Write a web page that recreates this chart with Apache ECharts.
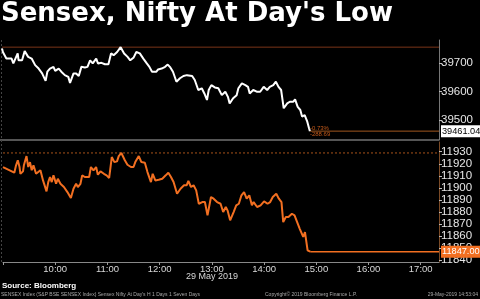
<!DOCTYPE html>
<html>
<head>
<meta charset="utf-8">
<script src="https://cdn.jsdelivr.net/npm/echarts@6/dist/echarts.min.js"></script>
<style>
  html, body { margin: 0; padding: 0; background: #000; }
  #chart { width: 480px; height: 299px; }
</style>
</head>
<body>
<div id="chart"></div>
<script>
// Sensex (top) 和 Nifty (bottom), 29 May 2019 intraday
var sensexTimes = ["9:00","9:01","9:05","9:11","9:13","9:15","9:18","9:19","9:23","9:26","9:30","9:34","9:38","9:42","9:46","9:47","9:50","9:52","9:55","9:59",
  "10:01","10:05","10:08","10:12","10:16","10:18","10:22","10:25","10:28","10:31","10:35","10:38","10:41","10:44","10:48","10:50","10:54","10:58",
  "11:02","11:05","11:08","11:12","11:16","11:20","11:24","11:27","11:31","11:34","11:38","11:42","11:46","11:49","11:52","11:54","11:57","11:59",
  "12:03","12:07","12:10","12:13","12:16","12:20","12:24","12:28","12:32","12:34","12:38","12:41","12:45","12:49","12:52","12:55","12:57",
  "13:00","13:04","13:08","13:12","13:16","13:19","13:21","13:25","13:29","13:31","13:35","13:39","13:42","13:44","13:48","13:52","13:56",
  "14:00","14:04","14:07","14:11","14:14","14:17","14:20","14:23","14:27","14:30","14:34","14:36","14:39","14:42","14:44","14:47","14:50","14:52","14:53"];
var sensexValues = [39750,39738,39715,39715,39698,39712,39733,39709,39709,39741,39721,39715,39692,39680,39663,39669,39637,39669,39680,39686,
  39672,39680,39669,39657,39651,39630,39663,39663,39654,39686,39684,39686,39709,39698,39715,39698,39700,39695,
  39695,39733,39727,39738,39755,39733,39721,39709,39719,39738,39733,39715,39698,39686,39669,39675,39669,39677,
  39680,39686,39694,39684,39669,39634,39646,39654,39657,39663,39654,39640,39605,39611,39593,39570,39605,
  39622,39614,39611,39587,39599,39581,39558,39576,39587,39611,39628,39622,39616,39593,39605,39599,39599,
  39616,39605,39616,39622,39634,39616,39605,39541,39558,39564,39564,39572,39546,39535,39512,39517,39494,39471,39461.04];
var sensexPrevClose = 39749.73;

var niftyTimes = ["9:00","9:13","9:15","9:17","9:19","9:20","9:23","9:24","9:27","9:29","9:31","9:33","9:35","9:38","9:40","9:43","9:46","9:47","9:50","9:52","9:54","9:56","9:58",
  "10:01","10:03","10:06","10:10","10:14","10:16","10:18","10:21","10:24","10:26","10:29","10:31","10:34","10:36","10:39","10:41","10:44","10:47","10:49","10:52","10:56","10:59",
  "11:02","11:05","11:08","11:11","11:13","11:16","11:20","11:23","11:27","11:30","11:32","11:36","11:39","11:43","11:46","11:50","11:52","11:55","11:59",
  "12:03","12:07","12:10","12:13","12:16","12:20","12:24","12:28","12:31","12:33","12:36","12:39","12:42","12:45","12:49","12:52","12:55","12:59",
  "13:02","13:06","13:10","13:13","13:16","13:18","13:21","13:25","13:28","13:31","13:34","13:37","13:40","13:43","13:46","13:48","13:52","13:56",
  "14:00","14:04","14:07","14:10","14:14","14:17","14:20","14:22","14:25","14:28","14:32","14:35","14:38","14:41","14:43","14:45","14:47","14:50","14:52","14:53"];
var niftyValues = [11917.3,11912.6,11918.7,11922.9,11917.3,11911.7,11913.7,11918.7,11926.4,11917.3,11921.4,11914.6,11918.7,11911.7,11910.4,11914.6,11906.2,11904.8,11897.1,11904.8,11909,11904.8,11910.4,
  11903.4,11907.6,11903.4,11900.7,11896.5,11896.5,11891.5,11899.3,11903.4,11900.7,11903.4,11910.4,11909,11910.4,11909,11917.3,11914.6,11917.3,11910.9,11913.7,11911.7,11910.4,
  11908.2,11925.6,11921.4,11922,11926.4,11929,11922.9,11919.2,11917.3,11917.3,11921.4,11926.4,11921.4,11920.9,11913.1,11904.8,11911.7,11906.2,11906.7,
  11907.6,11910.4,11912.6,11909,11904.8,11895.1,11899.3,11902.1,11902.1,11905.7,11900.7,11902.1,11897.9,11886.8,11888.2,11888.2,11877.2,11892.4,
  11891,11888.2,11886.8,11879.9,11884.1,11881.3,11873,11879.9,11885.5,11886.8,11893.8,11896.5,11891,11893.8,11885.5,11888.2,11884.1,11885.5,
  11888.8,11886.8,11888.2,11892.4,11895.1,11891,11888.2,11871.6,11875.8,11875.8,11878.5,11877.2,11871.6,11866,11867.5,11859.2,11863.3,11848.1,11847,11847];

var hourTicks = ["10:00","11:00","12:00","13:00","14:00","15:00","16:00","17:00"];

var xMin = 540, xMax = 1041;   // 9:00 .. ~17:21 in minutes
var orange = "#f26f21";

function toMin(t) {
  var p = t.split(":");
  return +p[0] * 60 + +p[1];
}
function pairs(times, vals) {
  return times.map(function (t, i) { return [toMin(t), vals[i]]; });
}

var sensexData = pairs(sensexTimes, sensexValues);
var niftyData = pairs(niftyTimes, niftyValues);
var sLast = sensexData[sensexData.length - 1];
var nLast = niftyData[niftyData.length - 1];
var sHigh = Math.max.apply(null, sensexValues);
var nHigh = Math.max.apply(null, niftyValues);
var sChg = sLast[1] - sensexPrevClose;
var sPct = sChg / sensexPrevClose * 100;

var font = "Liberation Sans";

function yAxisCfg(idx, min, max, split, lineColor) {
  return {
    type: "value", gridIndex: idx, position: "right",
    min: min, max: max, splitNumber: split, scale: true,
    axisLine: { show: true, lineStyle: { color: lineColor, width: 1 } },
    axisTick: { show: true, length: 3, lineStyle: { color: "#bbb" } },
    axisLabel: { color: "#e6e6e6", fontFamily: font, fontSize: 11.5, margin: 2,
      showMinLabel: false, showMaxLabel: false,
      formatter: function (v) { return String(v); } },
    splitLine: { show: false }
  };
}

// 水平参考线 (high / last)
function hLine(ax, x0, x1, v, style, endLabel) {
  return {
    type: "line", xAxisIndex: ax, yAxisIndex: ax, silent: true,
    data: [[x0, v], [x1, v]], showSymbol: false, symbol: "none",
    lineStyle: style, z: 1,
    endLabel: endLabel || { show: false }
  };
}

var chart = echarts.init(document.getElementById("chart"));
chart.setOption({
  backgroundColor: "#000",
  animation: false,
  title: {
    text: "Sensex, Nifty At Day's Low",
    left: 1, top: 1, padding: 0,
    textStyle: { color: "#fff", fontFamily: "DejaVu Sans", fontWeight: "bold", fontSize: 26 }
  },
  grid: [
    { left: 2, right: 41, top: 40, height: 100 },
    { left: 2, right: 41, top: 142, height: 120 }
  ],
  xAxis: [
    { type: "value", gridIndex: 0, min: xMin, max: xMax, interval: 60, show: false },
    {
      type: "value", gridIndex: 1, min: xMin, max: xMax, interval: 60,
      axisLine: { lineStyle: { color: "#888" } },
      axisTick: { show: true, length: 3, lineStyle: { color: "#999" } },
      axisLabel: {
        color: "#d8d8d8", fontFamily: font, fontSize: 9.5, margin: 2, showMaxLabel: false,
        formatter: function (v) {
          var h = Math.floor(v / 60);
          var lbl = (h < 10 ? "0" : "") + h + ":00";
          return hourTicks.indexOf(lbl) >= 0 ? lbl : "";
        }
      },
      splitLine: { show: false }
    }
  ],
  yAxis: [
    yAxisCfg(0, 39430, 39780, 3, "#777"),
    yAxisCfg(1, 11838.4, 11938.1, 10, "#7a4a26")
  ],
  series: [
    hLine(0, xMin, xMax, sHigh, { color: "#7a3418", width: 1 }),
    hLine(0, sLast[0], xMax, sLast[1], { color: "#a0561f", width: 1 }, {
      show: true, formatter: sLast[1].toFixed(2), distance: 2,
      color: "#000", backgroundColor: "#fff", padding: [2, 1, 1, 1],
      fontFamily: font, fontSize: 9.2
    }),
    hLine(1, xMin, xMax, nHigh, { color: "#a8521a", width: 1, type: [2, 2] }),
    hLine(1, sLast[0], xMax, nLast[1], { color: orange, width: 1.5 }, {
      show: true, formatter: nLast[1].toFixed(2), distance: 2,
      color: "#fff", backgroundColor: orange, padding: [2, 1, 1, 1],
      fontFamily: font, fontSize: 9.2
    }),
    {
      name: "SENSEX", type: "line", xAxisIndex: 0, yAxisIndex: 0, z: 3,
      data: sensexData, showSymbol: false,
      lineStyle: { color: "#fff", width: 2 }
    },
    {
      name: "NIFTY", type: "line", xAxisIndex: 1, yAxisIndex: 1, z: 3,
      data: niftyData, showSymbol: false,
      lineStyle: { color: orange, width: 2 }
    },
    {
      type: "scatter", xAxisIndex: 0, yAxisIndex: 0, silent: true, z: 4,
      data: [sLast], symbolSize: 0,
      label: {
        show: true, position: "right", distance: 0,
        formatter: sPct.toFixed(2) + "%\n" + sChg.toFixed(2),
        color: orange, fontFamily: font, fontSize: 6, lineHeight: 6
      }
    }
  ],
  graphic: [
    { type: "rect", left: 0, top: 139, shape: { width: 439, height: 2 }, style: { fill: "#555" }, silent: true },
    { type: "line", shape: { x1: 1.5, y1: 40, x2: 1.5, y2: 262 }, style: { stroke: "#444", lineDash: [2, 2] }, silent: true },
    { type: "text", left: 186, top: 272, style: { text: "29 May 2019", fill: "#d8d8d8", font: "9px 'Liberation Sans'" } },
    { type: "text", left: 2, top: 282, style: { text: "Source: Bloomberg", fill: "#fff", font: "bold 8px 'Liberation Sans'" } },
    { type: "text", left: 1, top: 292, style: { text: "SENSEX Index (S&P BSE SENSEX Index) Sensex Nifty At Day's H 1 Days 1 Seven Days", fill: "#aaa", font: "5px 'Liberation Sans'" } },
    { type: "text", left: 265, top: 292, style: { text: "Copyright\u00a9 2019 Bloomberg Finance L.P.", fill: "#aaa", font: "5px 'Liberation Sans'" } },
    { type: "text", right: 2, top: 292, style: { text: "29-May-2019 14:53:04", fill: "#aaa", font: "5px 'Liberation Sans'" } }
  ]
});
</script>
</body>
</html>
